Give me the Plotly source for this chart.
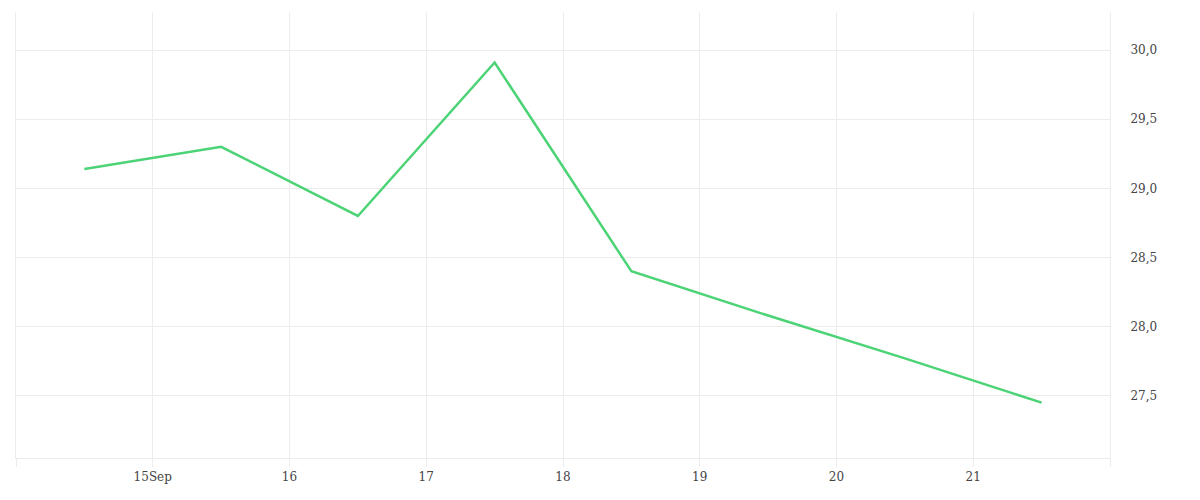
import pandas as pd
import plotly.graph_objects as go

# daily readings, taken at midday
dates = ['2024-09-14 12:00', '2024-09-15 12:00', '2024-09-16 12:00', '2024-09-17 12:00',
         '2024-09-18 12:00', '2024-09-19 12:00', '2024-09-20 12:00', '2024-09-21 12:00']
values = [29.14, 29.30, 28.80, 29.91, 28.40, 28.08, 27.77, 27.45]

tick_days = ['2024-09-14', '2024-09-15', '2024-09-16', '2024-09-17', '2024-09-18',
             '2024-09-19', '2024-09-20', '2024-09-21', '2024-09-22']
tick_labels = ['', '15Sep', '16', '17', '18', '19', '20', '21', '']

y_ticks = [27.5, 28.0, 28.5, 29.0, 29.5, 30.0]

grid = '#ececec'

fig = go.Figure()
fig.add_trace(go.Scatter(x=pd.to_datetime(dates), y=values, mode='lines',
                         line=dict(color='#4cd376', width=2.5), hoverinfo='x+y'))

# page body adds 8px, so margins are shifted to land the plot where the original sits
fig.update_layout(
    width=1200, height=500,
    margin=dict(l=8, r=98, t=4, b=50),
    paper_bgcolor='white', plot_bgcolor='white',
    showlegend=False,
    separators=',.',
    font=dict(family='DejaVu Serif', size=12, color='#444'),
)
fig.update_xaxes(
    type='date', range=[tick_days[0], tick_days[-1]],
    tickvals=pd.to_datetime(tick_days), ticktext=tick_labels,
    showgrid=True, gridcolor=grid, gridwidth=1,
    ticks='outside', ticklen=8, tickcolor=grid,
    showline=True, linecolor=grid, linewidth=1,
    zeroline=False,
)
fig.update_yaxes(
    side='right', range=[27.05, 30.275],
    tickvals=y_ticks, tickformat='.1f',
    showgrid=True, gridcolor=grid, gridwidth=1,
    ticks='outside', ticklen=17, tickcolor='rgba(0,0,0,0)',
    showline=True, mirror=True, linecolor=grid, linewidth=1,
    zeroline=False,
)

fig.write_html("out.html")
